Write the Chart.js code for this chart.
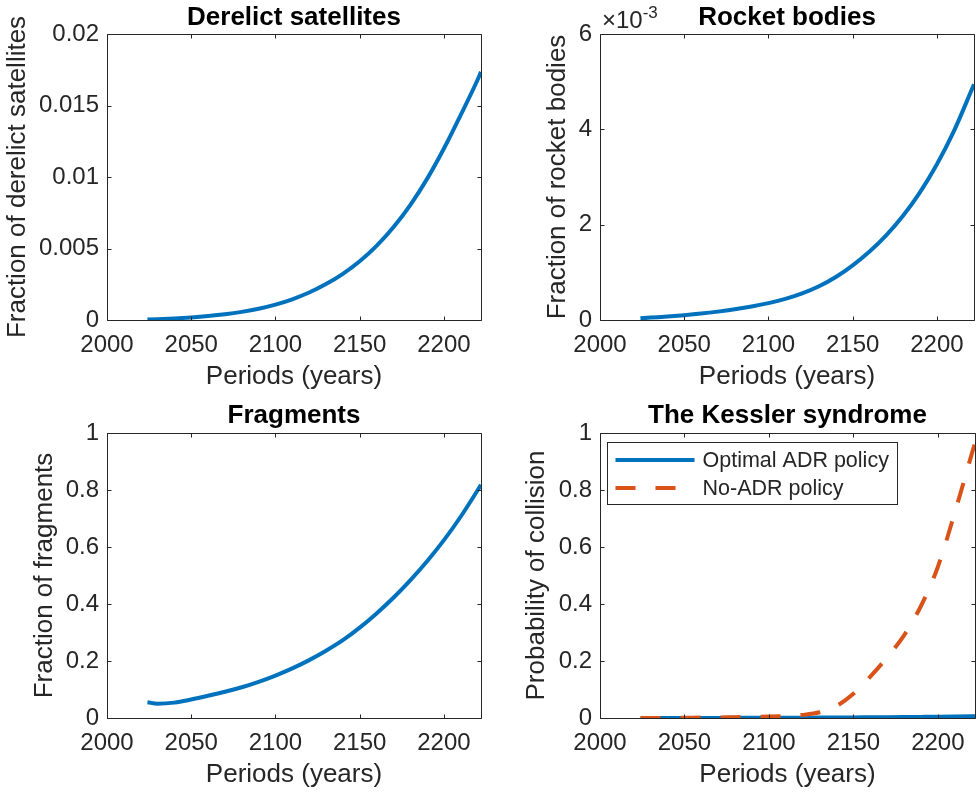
<!DOCTYPE html>
<html>
<head>
<meta charset="utf-8">
<script src="https://cdn.jsdelivr.net/npm/chart.js@4"></script>
<style>
  html, body { margin: 0; padding: 0; background: #fff; overflow: hidden; }
  canvas { position: absolute; }
</style>
</head>
<body>
<canvas id="derelict" width="490" height="400" style="left:0;top:0"></canvas>
<canvas id="rocket" width="487" height="400" style="left:490px;top:0"></canvas>
<canvas id="fragments" width="490" height="392" style="left:0;top:400px"></canvas>
<canvas id="kessler" width="487" height="392" style="left:490px;top:400px"></canvas>
<script>
// data
const years = [2024, 2030, 2040, 2050, 2060, 2070, 2080, 2090, 2100, 2110, 2120,
  2130, 2140, 2150, 2160, 2170, 2180, 2190, 2200, 2210, 2220, 2222];
const derelict = [0.00003, 0.00006, 0.00011, 0.00018, 0.000275, 0.0004, 0.00057, 0.00079, 0.00108, 0.00145, 0.00192,
  0.00251, 0.00323, 0.00411, 0.00519, 0.00649, 0.00804, 0.00987, 0.01199, 0.01435, 0.0168, 0.01735];
const rocketBodies = [0.000035, 0.00005, 0.000072, 0.0001, 0.000134, 0.000176, 0.000226, 0.000284, 0.000354, 0.000442, 0.000557,
  0.000707, 0.000902, 0.001147, 0.001437, 0.001782, 0.002192, 0.002682, 0.003267, 0.003957, 0.004777, 0.004947];
const fragments = [0.055, 0.05, 0.054, 0.065, 0.078, 0.092, 0.108, 0.127, 0.149, 0.174, 0.203,
  0.236, 0.273, 0.317, 0.367, 0.422, 0.483, 0.55, 0.624, 0.707, 0.799, 0.818];
const collisionOptimal = [0, 0, 0, 0.0002, 0.0003, 0.0004, 0.0005, 0.0006, 0.0008, 0.001, 0.0012,
  0.0014, 0.0017, 0.002, 0.0024, 0.0028, 0.0033, 0.0039, 0.0045, 0.0052, 0.006, 0.0062];
const collisionNoAdr = [0, 0, 0.0005, 0.001, 0.0015, 0.002, 0.003, 0.004, 0.005, 0.007, 0.011,
  0.02, 0.042, 0.085, 0.145, 0.213, 0.29, 0.393, 0.53, 0.72, 0.925, 0.965];

const xTicks = [2000, 2050, 2100, 2150, 2200];
const derelictTicks = [0, 0.005, 0.01, 0.015, 0.02];
const rocketTicks = [0, 0.002, 0.004, 0.006];
const unitTicks = [0, 0.2, 0.4, 0.6, 0.8, 1];

const FONT = "'Liberation Sans', Arial, Helvetica, sans-serif";
const INK = '#262626';
const BLUE = '#0072BD';
const ORANGE = '#D95319';
Chart.defaults.font.family = FONT;
Chart.defaults.color = INK;

const pts = (arr) => years.map((x, i) => ({ x, y: arr[i] }));

// MATLAB style box with inward ticks on all four sides
const boxAxes = {
  id: 'boxAxes',
  afterDatasetsDraw(chart) {
    const { ctx, chartArea: a, scales: { x, y } } = chart;
    const L = Math.round(a.left) + 0.5, R = Math.round(a.right) + 0.5;
    const T = Math.round(a.top) + 0.5, B = Math.round(a.bottom) + 0.5;
    const len = 4;
    ctx.save();
    ctx.strokeStyle = INK;
    ctx.lineWidth = 1;
    ctx.beginPath();
    ctx.rect(L, T, R - L, B - T);
    x.ticks.forEach(t => {
      const px = Math.round(x.getPixelForValue(t.value)) + 0.5;
      ctx.moveTo(px, B); ctx.lineTo(px, B - len);
      ctx.moveTo(px, T); ctx.lineTo(px, T + len);
    });
    y.ticks.forEach(t => {
      const py = Math.round(y.getPixelForValue(t.value)) + 0.5;
      ctx.moveTo(L, py); ctx.lineTo(L + len, py);
      ctx.moveTo(R, py); ctx.lineTo(R - len, py);
    });
    ctx.stroke();
    ctx.restore();
  }
};

// "x10^-3" multiplier above the y axis
const exponentLabel = {
  id: 'exponentLabel',
  afterDraw(chart) {
    const { ctx, chartArea: a } = chart;
    ctx.save();
    ctx.fillStyle = INK;
    ctx.textBaseline = 'alphabetic';
    ctx.font = `24px ${FONT}`;
    const base = '\u00d710';
    ctx.fillText(base, a.left + 2, 28);
    const w = ctx.measureText(base).width;
    ctx.font = `17px ${FONT}`;
    ctx.fillText('-3', a.left + 2 + w, 18);
    ctx.restore();
  }
};

// legend box inside the axes, top-left
const boxLegend = {
  id: 'boxLegend',
  afterDraw(chart) {
    const { ctx, chartArea: a } = chart;
    const sets = chart.data.datasets;
    ctx.save();
    ctx.font = `21.5px ${FONT}`;
    const textW = Math.max(...sets.map(d => ctx.measureText(d.label).width));
    const x0 = Math.round(a.left + 7) + 0.5, y0 = Math.round(a.top + 9) + 0.5;
    const w = Math.round(95 + textW + 9), h = 62;
    ctx.fillStyle = '#fff';
    ctx.fillRect(x0, y0, w, h);
    ctx.strokeStyle = INK;
    ctx.lineWidth = 1;
    ctx.strokeRect(x0, y0, w, h);
    sets.forEach((d, i) => {
      const cy = y0 + 17.5 + i * 28;
      ctx.strokeStyle = d.borderColor;
      ctx.lineWidth = d.borderWidth;
      ctx.setLineDash(d.borderDash || []);
      ctx.beginPath();
      ctx.moveTo(x0 + 8, cy);
      ctx.lineTo(x0 + 87, cy);
      ctx.stroke();
      ctx.setLineDash([]);
      ctx.fillStyle = INK;
      ctx.textBaseline = 'middle';
      ctx.fillText(d.label, x0 + 95, cy + 1);
    });
    ctx.restore();
  }
};

function panel(id, p) {
  const canvas = document.getElementById(id);
  const W = canvas.width, H = canvas.height;
  const a = p.area;
  return new Chart(canvas, {
    type: 'line',
    data: { datasets: p.datasets },
    options: {
      responsive: false,
      animation: false,
      devicePixelRatio: 1,
      layout: { padding: { left: 0, top: 0, right: W - a.right, bottom: 0 } },
      elements: { point: { radius: 0 }, line: { cubicInterpolationMode: 'monotone' } },
      plugins: {
        legend: { display: false },
        tooltip: { enabled: false },
        title: {
          display: true,
          text: p.title,
          fullSize: false,
          color: '#000',
          font: { size: 26, weight: 'bold', lineHeight: 1.2 },
          padding: { top: p.titleTop, bottom: a.top - 31.2 - p.titleTop },
        },
      },
      scales: {
        x: {
          type: 'linear',
          min: 2000,
          max: 2222,
          afterBuildTicks: s => { s.ticks = xTicks.map(v => ({ value: v })); },
          afterFit: s => { s.height = H - a.bottom; },
          grid: { display: false, drawTicks: false },
          border: { display: false },
          ticks: { font: { size: 24 }, color: INK, padding: 11, maxRotation: 0, autoSkip: false, callback: v => String(v) },
          title: {
            display: true,
            text: 'Periods (years)',
            color: INK,
            font: { size: 26, lineHeight: 1.2 },
            padding: { top: 0, bottom: H - a.bottom - 57 - 15.6 },
          },
        },
        y: {
          type: 'linear',
          min: 0,
          max: p.yTicks[p.yTicks.length - 1],
          afterBuildTicks: s => { s.ticks = p.yTicks.map(v => ({ value: v })); },
          afterFit: s => { s.width = a.left; },
          grid: { display: false, drawTicks: false },
          border: { display: false },
          ticks: { font: { size: 24 }, color: INK, padding: 8, autoSkip: false, callback: p.tickLabel },
          title: {
            display: true,
            text: p.yTitle,
            color: INK,
            font: { size: 26, lineHeight: 1.2 },
            padding: { top: p.yTitlePad, bottom: 0 },
          },
        },
      },
    },
    plugins: [boxAxes].concat(p.extra || []),
  });
}

const solid = (label, arr, color, order) => ({
  label, data: pts(arr), borderColor: color, borderWidth: 4, fill: false, order,
});

panel('derelict', {
  title: 'Derelict satellites',
  yTitle: 'Fraction of derelict satellites',
  datasets: [solid('Derelict satellites', derelict, BLUE, 0)],
  yTicks: derelictTicks,
  tickLabel: v => String(parseFloat(v.toFixed(4))),
  area: { left: 107, top: 34, right: 481, bottom: 320 },
  titleTop: 2.5,
  yTitlePad: 2.2,
});

panel('rocket', {
  title: 'Rocket bodies',
  yTitle: 'Fraction of rocket bodies',
  datasets: [solid('Rocket bodies', rocketBodies, BLUE, 0)],
  yTicks: rocketTicks,
  tickLabel: v => String(Math.round(v * 1000)),
  area: { left: 110, top: 34, right: 484, bottom: 320 },
  titleTop: 2.5,
  yTitlePad: 52.2,
  extra: [exponentLabel],
});

panel('fragments', {
  title: 'Fragments',
  yTitle: 'Fraction of fragments',
  datasets: [solid('Fragments', fragments, BLUE, 0)],
  yTicks: unitTicks,
  tickLabel: v => String(parseFloat(v.toFixed(2))),
  area: { left: 107, top: 33, right: 481, bottom: 318 },
  titleTop: 0,
  yTitlePad: 28.9,
});

const noAdr = solid('No-ADR policy', collisionNoAdr, ORANGE, 0);
noAdr.borderDash = [20, 20];

panel('kessler', {
  title: 'The Kessler syndrome',
  yTitle: 'Probability of collision',
  datasets: [solid('Optimal ADR policy', collisionOptimal, BLUE, 1), noAdr],
  yTicks: unitTicks,
  tickLabel: v => String(parseFloat(v.toFixed(2))),
  area: { left: 110, top: 33, right: 485, bottom: 318 },
  titleTop: 0,
  yTitlePad: 31.4,
  extra: [boxLegend],
});
</script>
</body>
</html>
